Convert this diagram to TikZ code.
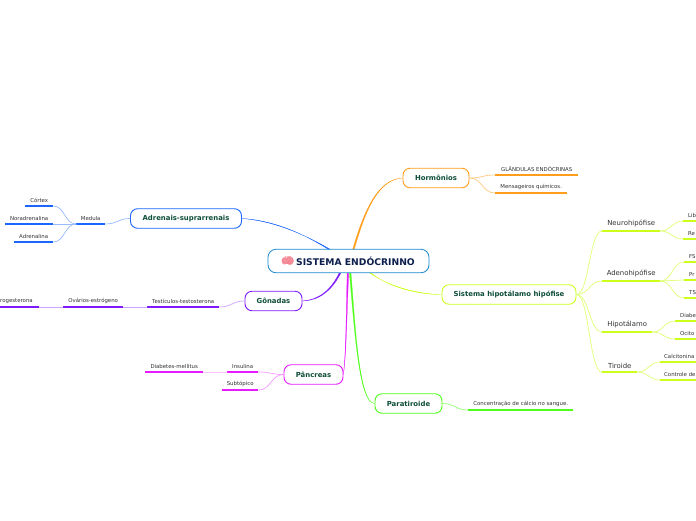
\documentclass[tikz,border=0pt]{standalone}
\usepackage{fontspec}
\setmainfont{DejaVu Sans}
\newfontfamily\emojifont{Noto Emoji}
\usetikzlibrary{calc}
\definecolor{cblue}{HTML}{1A66FF}
\definecolor{cpurple}{HTML}{7F1AFF}
\definecolor{cmag}{HTML}{E81AFF}
\definecolor{cgreen}{HTML}{4DFF1A}
\definecolor{cyel}{HTML}{CCFF1A}
\definecolor{corange}{HTML}{FF9E1A}
\definecolor{ccent}{HTML}{1A8AD0}
\definecolor{tmain}{HTML}{0D1F4D}
\definecolor{tbranch}{HTML}{0D4D3A}
\definecolor{tleaf}{HTML}{333333}
\definecolor{brainpink}{HTML}{F49AA8}
\tikzset{
  x=1pt,y=-1pt,
  central/.style={draw=ccent,line width=0.8pt,rounded corners=8pt,fill=white,minimum width=161pt,minimum height=23.5pt,inner sep=0pt,text=tmain,font=\fontsize{9.2}{10}\selectfont\bfseries},
  branch/.style={draw=#1,line width=0.9pt,rounded corners=7pt,fill=white,minimum height=19.5pt,inner sep=0pt,text=tbranch,font=\fontsize{6.9}{8}\selectfont\bfseries},
  leafnode/.style={anchor=south west,inner xsep=0pt,inner ysep=3.6pt,text=tleaf,font=\fontsize{#1}{7}\selectfont},
  under/.style={draw=#1,line width=1.3pt},
  link/.style={draw=#1,line width=0.7pt,line cap=round},
  trunk/.style={draw=#1,fill=#1,line width=0.25pt,line join=round},
}
\newcommand{\leafat}[8]{%
  \node[leafnode=#6,minimum width=#3pt-#2pt] (#1) at (#2,#4) {\makebox[\dimexpr#3pt-#2pt\relax][#7]{#8}};
  \draw[under=#5] (#1.south west) -- (#1.south east);
}
\newcommand{\slink}[3]{%
  \draw[link=#3] let \p1=(#1),\p2=(#2),\n1={0.5*\x1+0.5*\x2} in (\p1) .. controls (\n1,\y1) and (\n1,\y2) .. (\p2);
}
\begin{document}
\begin{tikzpicture}
\useasboundingbox (0,0) rectangle (696,520);
\clip (0,0) rectangle (696,520);
\fill[white] (0,0) rectangle (696,520);

\coordinate (rootO) at (353,251);
\coordinate (rootB) at (332,251);
\coordinate (rootP) at (341,271);
\coordinate (rootM) at (348,271);
\coordinate (rootG) at (350,271);
\coordinate (rootY) at (368,271);

% nodes
\node[branch=corange,minimum width=66pt] (horm) at (436,178) {Hormônios};
\node[branch=cblue,minimum width=111pt] (adre) at (186,218.5) {Adrenais-suprarrenais};
\node[branch=cpurple,minimum width=57pt] (gona) at (273.5,301) {Gônadas};
\node[branch=cyel,minimum width=134pt] (sist) at (509,294.5) {Sistema hipotálamo hipófise};
\node[branch=cmag,minimum width=59pt] (panc) at (313.5,374.5) {Pâncreas};
\node[branch=cgreen,minimum width=67pt] (para) at (408.5,403.5) {Paratiroide};

\draw[trunk=corange] ($(rootO)+(-0.8,0)$) .. controls (364,210) and (378,179) .. (horm.west) .. controls (378,179.5) and (365,211) .. ($(rootO)+(0.8,0)$) -- cycle;
\draw[trunk=cblue] ($(rootB)+(-1,0)$) .. controls (300,231) and (270,220) .. (adre.east) .. controls (270,220.5) and (300,231.5) .. ($(rootB)+(1,0)$) -- cycle;
\draw[trunk=cpurple] ($(rootP)+(-0.8,0)$) .. controls (331,291) and (318,300) .. (gona.east) .. controls (318.5,300.5) and (332,291.5) .. ($(rootP)+(0.8,0)$) -- cycle;
\draw[trunk=cmag] ($(rootM)+(-0.8,0)$) .. controls (346,320) and (346,350) .. (panc.east) .. controls (346.4,352) and (346.6,320) .. ($(rootM)+(0.8,0)$) -- cycle;
\draw[trunk=cgreen] ($(rootG)+(-0.8,0)$) .. controls (354,320) and (358,403) .. (para.west) .. controls (358.5,403) and (355,320) .. ($(rootG)+(0.8,0)$) -- cycle;
\draw[trunk=cyel] ($(rootY)+(-0.8,0)$) .. controls (385,285) and (415,294) .. (sist.west) .. controls (415,294.6) and (385,285.8) .. ($(rootY)+(0.8,0)$) -- cycle;

\node[central] (root) at (348.5,261) {\hspace{14pt}SISTEMA ENDÓCRINNO};
\fill[brainpink] (284.5,261) ellipse (3pt and 3.6pt) (289.5,260.5) ellipse (4.3pt and 4pt);
\node[inner sep=0pt,text=brainpink!75!red,font=\fontsize{10}{10}\emojifont] (brain) at (288,261) {🧠};

% leaves: Hormonios
\leafat{glan}{495}{578}{175}{corange}{5.4}{c}{GLÂNDULAS ENDÓCRINAS}
\leafat{mens}{495}{567}{193}{corange}{5.4}{c}{Mensageiros químicos.}
\slink{horm.east}{glan.south west}{corange!55}
\slink{horm.east}{mens.south west}{corange!55}

% Adrenais
\leafat{medu}{76}{105}{224}{cblue}{5.4}{c}{Medula}
\leafat{cort}{25}{53}{206}{cblue}{5.4}{c}{Córtex}
\leafat{nora}{5}{53}{224}{cblue}{5.4}{c}{Noradrenalina}
\leafat{adrn}{14}{53}{242}{cblue}{5.4}{c}{Adrenalina}
\slink{adre.west}{medu.south east}{cblue!45}
\slink{medu.south west}{cort.south east}{cblue!45}
\slink{medu.south west}{nora.south east}{cblue!45}
\slink{medu.south west}{adrn.south east}{cblue!45}

% Gonadas
\leafat{test}{147}{219}{307}{cpurple}{5.4}{c}{Testículos-testosterona}
\leafat{ovar}{63}{123}{307}{cpurple}{5.4}{c}{Ovários-estrógeno}
\leafat{prog}{0}{39}{307}{cpurple}{5.4}{l}{rogesterona}
\slink{gona.west}{test.south east}{cpurple!40}
\slink{test.south west}{ovar.south east}{cpurple!40}
\slink{ovar.south west}{prog.south east}{cpurple!40}

% Pancreas
\leafat{insu}{227}{258}{372}{cmag}{5.4}{c}{Insulina}
\leafat{subt}{222}{258}{390}{cmag}{5.4}{c}{Subtópico}
\leafat{diab}{145}{203}{372}{cmag}{5.4}{c}{Diabetes-mellitus}
\slink{panc.west}{insu.south east}{cmag!45}
\slink{panc.west}{subt.south east}{cmag!45}
\slink{insu.south west}{diab.south east}{cmag!25}

% Paratiroide
\leafat{conc}{468}{573}{410}{cgreen}{5.4}{c}{Concentração de cálcio no sangue.}
\slink{para.east}{conc.south west}{cgreen!60}

% Sistema
\leafat{neur}{602}{660}{231}{cyel}{6.9}{c}{Neurohipófise}
\leafat{aden}{602}{660}{281}{cyel}{6.9}{c}{Adenohipófise}
\leafat{hipo}{602}{652}{332}{cyel}{6.9}{c}{Hipotálamo}
\leafat{tiro}{602}{637}{372}{cyel}{6.9}{c}{Tiroide}
\slink{sist.east}{neur.south west}{cyel!60}
\slink{sist.east}{aden.south west}{cyel!60}
\slink{sist.east}{hipo.south west}{cyel!60}
\slink{sist.east}{tiro.south west}{cyel!60}

\leafat{libe}{683}{696}{221}{cyel}{5.4}{l}{\hspace{5pt}Lib}
\leafat{reab}{683}{696}{239}{cyel}{5.4}{l}{\hspace{5pt}Re}
\slink{neur.south east}{libe.south west}{cyel!60}
\slink{neur.south east}{reab.south west}{cyel!60}

\leafat{fsh}{684}{696}{262}{cyel}{5.4}{l}{\hspace{5pt}FS}
\leafat{prol}{684}{696}{280}{cyel}{5.4}{l}{\hspace{5pt}Pr}
\leafat{tsh}{684}{696}{298}{cyel}{5.4}{l}{\hspace{5pt}TS}
\slink{aden.south east}{fsh.south west}{cyel!60}
\slink{aden.south east}{prol.south west}{cyel!60}
\slink{aden.south east}{tsh.south west}{cyel!60}

\leafat{diabe}{675}{696}{321}{cyel}{5.4}{l}{\hspace{5pt}Diabe}
\leafat{ocit}{675}{696}{339}{cyel}{5.4}{l}{\hspace{5pt}Ocito}
\slink{hipo.south east}{diabe.south west}{cyel!60}
\slink{hipo.south east}{ocit.south west}{cyel!60}

\leafat{calc}{660}{696}{362}{cyel}{5.4}{l}{\hspace{4pt}Calcitonina}
\leafat{cont}{660}{696}{380}{cyel}{5.4}{l}{\hspace{4pt}Controle de}
\slink{tiro.south east}{calc.south west}{cyel!60}
\slink{tiro.south east}{cont.south west}{cyel!60}
\end{tikzpicture}
\end{document}
